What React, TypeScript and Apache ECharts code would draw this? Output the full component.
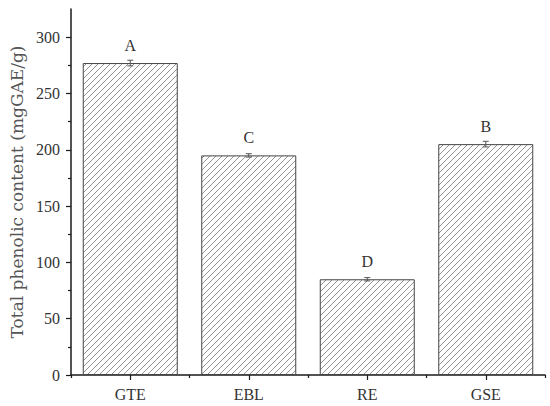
import React, { useEffect, useRef } from "react";
import * as echarts from "echarts";

const categories = ["GTE", "EBL", "RE", "GSE"];
const values = [277, 195, 85, 205];
const errors = [2.5, 1.5, 1.5, 2.5];
const letters = ["A", "C", "D", "B"];
const yMajorTicks = [0, 50, 100, 150, 200, 250, 300];
const yMinorTicks = [25, 75, 125, 175, 225, 275];

function makeHatch(): HTMLCanvasElement {
  const size = 6;
  const c = document.createElement("canvas");
  c.width = size;
  c.height = size;
  const ctx = c.getContext("2d")!;
  ctx.fillStyle = "#ffffff";
  ctx.fillRect(0, 0, size, size);
  ctx.strokeStyle = "#7a7a7a";
  ctx.lineWidth = 0.8;
  ctx.beginPath();
  ctx.moveTo(0, size);
  ctx.lineTo(size, 0);
  ctx.moveTo(-1, 1);
  ctx.lineTo(1, -1);
  ctx.moveTo(size - 1, size + 1);
  ctx.lineTo(size + 1, size - 1);
  ctx.stroke();
  return c;
}

export default function App() {
  const ref = useRef<HTMLDivElement>(null);
  useEffect(() => {
    if (!ref.current) return;
    const chart = echarts.init(ref.current, undefined, { renderer: "svg" });
    const axisColor = "#1a1a1a";
    const textColor = "#333333";
    const serif = "Liberation Serif";
    chart.setOption({
      animation: false,
      backgroundColor: "#ffffff",
      grid: { left: 71, right: 5, top: 9, bottom: 31, containLabel: false },
      xAxis: [
        {
          type: "category",
          data: categories,
          position: "bottom",
          axisLine: { show: true, lineStyle: { color: axisColor, width: 1.5 } },
          axisTick: { show: true, alignWithLabel: true, length: 5, lineStyle: { color: axisColor, width: 1.2 } },
          axisLabel: { fontFamily: serif, fontSize: 16, color: textColor, margin: 11 },
          splitLine: { show: false },
        },
        {
          type: "category",
          data: categories,
          position: "bottom",
          axisLine: { show: false },
          axisTick: { show: true, alignWithLabel: false, length: 3, lineStyle: { color: axisColor, width: 1.2 } },
          axisLabel: { show: false },
          splitLine: { show: false },
        },
      ],
      yAxis: [
        {
          type: "value",
          min: 0,
          max: 325,
          interval: 25,
          position: "left",
          name: "Total phenolic content (mgGAE/g)",
          nameLocation: "middle",
          nameGap: 40,
          nameTextStyle: { fontFamily: "DejaVu Serif", fontSize: 17, color: "#555555" },
          axisLine: { show: true, lineStyle: { color: axisColor, width: 1.5 } },
          axisTick: { show: true, length: 5, customValues: yMajorTicks, lineStyle: { color: axisColor, width: 1.2 } },
          axisLabel: {
            customValues: yMajorTicks,
            fontFamily: serif,
            fontSize: 16,
            color: textColor,
            margin: 11,
            formatter: (v: number) => (v % 50 === 0 && v <= 300 ? String(v) : ""),
          },
          splitLine: { show: false },
        },
        {
          type: "value",
          min: 0,
          max: 325,
          interval: 25,
          position: "left",
          axisLine: { show: false },
          axisTick: { show: true, length: 3, customValues: yMinorTicks, lineStyle: { color: axisColor, width: 1.2 } },
          axisLabel: { show: false },
          splitLine: { show: false },
        },
      ],
      series: [
        {
          type: "bar",
          xAxisIndex: 0,
          yAxisIndex: 0,
          data: values,
          barWidth: 95,
          itemStyle: {
            color: { image: makeHatch(), repeat: "repeat" },
            borderColor: "#444444",
            borderWidth: 1,
          },
          label: {
            show: true,
            position: "top",
            distance: 10,
            fontFamily: serif,
            fontSize: 16,
            color: textColor,
            formatter: (p: any) => letters[p.dataIndex],
          },
        },
        {
          type: "custom",
          xAxisIndex: 0,
          yAxisIndex: 0,
          z: 5,
          data: values.map((v, i) => [i, v, errors[i]]),
          encode: { x: 0, y: 1 },
          renderItem: (params: any, api: any) => {
            const i = api.value(0);
            const v = api.value(1);
            const e = api.value(2);
            const top = api.coord([i, v + e]);
            const bot = api.coord([i, v - e]);
            const hw = 3;
            const style = { stroke: "#555555", lineWidth: 1 };
            return {
              type: "group",
              children: [
                { type: "line", shape: { x1: top[0], y1: top[1], x2: bot[0], y2: bot[1] }, style },
                { type: "line", shape: { x1: top[0] - hw, y1: top[1], x2: top[0] + hw, y2: top[1] }, style },
                { type: "line", shape: { x1: bot[0] - hw, y1: bot[1], x2: bot[0] + hw, y2: bot[1] }, style },
              ],
            };
          },
        },
      ],
    });
    return () => chart.dispose();
  }, []);
  return (
    <div
      ref={ref}
      style={{ position: "fixed", left: 0, top: 0, width: 550, height: 406, background: "#fff" }}
    />
  );
}
